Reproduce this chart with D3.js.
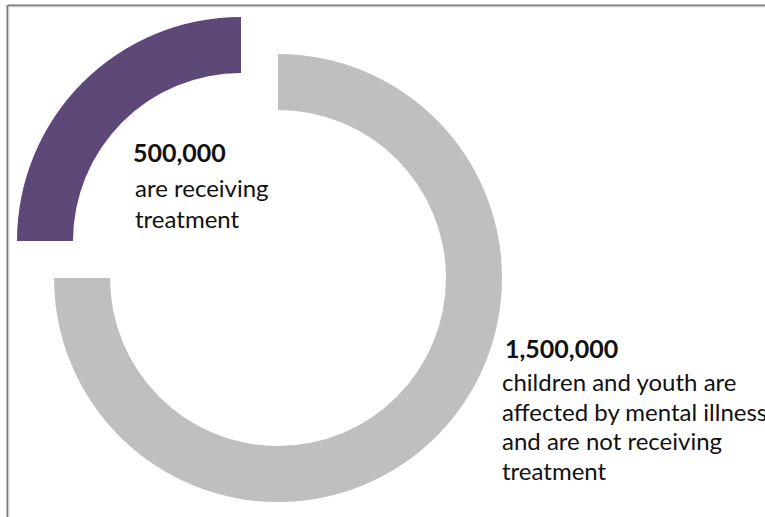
<!DOCTYPE html>
<html><head><meta charset="utf-8">
<script src="https://cdn.jsdelivr.net/npm/d3@7"></script>
<style>html,body{margin:0;padding:0;background:#fff;}svg{display:block;}</style>
</head><body>
<svg id="c" width="765" height="517"></svg>
<script>
const categories = ["are receiving treatment", "children and youth are affected by mental illness and are not receiving treatment"];
const values = [500000, 1500000];
const valueLabels = ["500,000", "1,500,000"];
const labelLines = [["are receiving", "treatment"], ["children and youth are", "affected by mental illness", "and are not receiving", "treatment"]];
const colors = ["#5E4878", "#BFBFBF"];

const svg = d3.select("#c");
// frame
svg.append("line").attr("x1", 8).attr("x2", 765).attr("y1", 5.5).attr("y2", 5.5).attr("stroke", "#7a7a7a").attr("stroke-width", 2);
svg.append("line").attr("x1", 7.5).attr("x2", 7.5).attr("y1", 5).attr("y2", 517).attr("stroke", "#7a7a7a").attr("stroke-width", 2);
svg.append("line").attr("x1", 9).attr("x2", 765).attr("y1", 7).attr("y2", 7).attr("stroke", "#e0e0e0").attr("stroke-width", 1);
svg.append("line").attr("x1", 9).attr("x2", 9).attr("y1", 7).attr("y2", 517).attr("stroke", "#e0e0e0").attr("stroke-width", 1);

const cx = 278, cy = 278, R = 224, r = 168, explode = 37 * Math.SQRT2;
const pie = d3.pie().sort(null).startAngle(-Math.PI / 2).endAngle(3 * Math.PI / 2);
const arc = d3.arc().innerRadius(r).outerRadius(R);
const arcs = pie(values);
const g = svg.append("g").attr("transform", `translate(${cx},${cy})`);
g.selectAll("path").data(arcs).join("path")
  .attr("d", arc)
  .attr("fill", (d, i) => colors[i])
  .attr("transform", (d, i) => {
    if (i !== 0) return null;
    const a = (d.startAngle + d.endAngle) / 2;
    return `translate(${Math.sin(a) * explode},${-Math.cos(a) * explode})`;
  });

const font = "Lato, 'Open Sans', sans-serif";
const blocks = [
  {x: 133, y: 162, lx: 135, ly: 197, dy: 30.5},
  {x: 505, y: 358, lx: 502, ly: 391, dy: 29.5}
];
blocks.forEach((b, i) => {
  svg.append("text").attr("x", b.x).attr("y", b.y).attr("font-family", font)
    .attr("font-weight", "bold").attr("font-size", 25).attr("fill", "#111").text(valueLabels[i]);
  labelLines[i].forEach((t, j) => {
    svg.append("text").attr("x", b.lx).attr("y", b.ly + j * b.dy).attr("font-family", font)
      .attr("font-size", 24).attr("fill", "#111").text(t);
  });
});
</script>
</body></html>
